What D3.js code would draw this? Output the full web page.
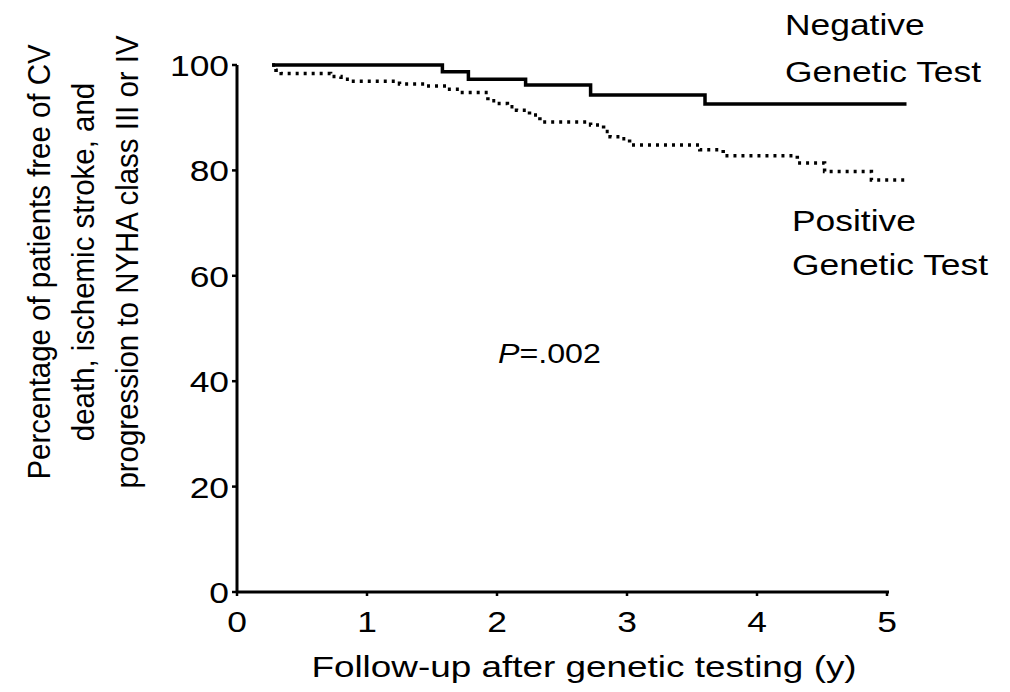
<!DOCTYPE html>
<meta charset="utf-8">
<script src="https://d3js.org/d3.v7.min.js"></script>
<style>
  body { margin: 0; background: #fff; }
  text { font-family: "Liberation Sans", Arial, sans-serif; fill: #000; }
</style>
<div id="chart"></div>
<script>

// follow-up years and % free of events (step points)
var negTime  = [0.27, 1.58, 1.78, 2.22, 2.72, 3.60, 5.15];
var negValue = [100, 98.7, 97.3, 96.2, 94.3, 92.6, 92.6];

var posTime  = [0.27, 0.30, 0.34, 0.72, 0.80, 0.87, 1.25, 1.45, 1.62, 1.72, 1.93, 2.00, 2.08, 2.15,
                2.25, 2.33, 2.72, 2.82, 2.87, 2.95, 3.02, 3.56, 3.74, 4.31, 4.52, 4.88, 5.15];
var posValue = [100, 99, 98.4, 97.8, 97.3, 96.9, 96.4, 96.0, 95.4, 94.8, 93.2, 92.7, 92.1, 91.4,
                90.5, 89.2, 88.6, 87.4, 86.4, 86.0, 84.8, 83.9, 82.8, 81.4, 79.8, 78.2, 78.2];

var xTicks = [0, 1, 2, 3, 4, 5];
var yTicks = [0, 20, 40, 60, 80, 100];

var yLabelLines = ["Percentage of patients free of CV",
                   "death, ischemic stroke, and",
                   "progression to NYHA class III or IV"];

var W = 1010, H = 692;
var sx = 1.18; // horizontal stretch of the original lettering

var svg = d3.select("#chart").append("svg")
    .attr("width", W).attr("height", H);

var x = d3.scaleLinear().domain([0, 5]).range([237, 887]);
var y = d3.scaleLinear().domain([0, 100]).range([592, 65]);

// axes lines
svg.append("line")
  .attr("x1", x(0)).attr("x2", x(5) + 2)
  .attr("y1", y(0)).attr("y2", y(0))
  .attr("stroke", "#000").attr("stroke-width", 3);
svg.append("line")
  .attr("x1", x(0)).attr("x2", x(0))
  .attr("y1", y(0) + 1).attr("y2", y(100))
  .attr("stroke", "#000").attr("stroke-width", 3);

// y ticks + labels
yTicks.forEach(function(t) {
  svg.append("line")
    .attr("x1", x(0) - 5).attr("x2", x(0))
    .attr("y1", y(t)).attr("y2", y(t))
    .attr("stroke", "#000").attr("stroke-width", 2.5);
  svg.append("text")
    .attr("transform", "translate(" + (x(0) - 8) + "," + (y(t) + 11) + ") scale(" + sx + ",1)")
    .attr("text-anchor", "end")
    .style("font-size", "30px")
    .text(t);
});

// x ticks + labels
xTicks.forEach(function(t) {
  svg.append("line")
    .attr("x1", x(t)).attr("x2", x(t))
    .attr("y1", y(0)).attr("y2", y(0) + 4)
    .attr("stroke", "#000").attr("stroke-width", 2.5);
  svg.append("text")
    .attr("transform", "translate(" + x(t) + "," + 632 + ") scale(" + sx + ",1)")
    .attr("text-anchor", "middle")
    .style("font-size", "30px")
    .text(t);
});

// x axis title
svg.append("text")
  .attr("transform", "translate(" + 584 + "," + 677 + ") scale(1.23,1)")
  .attr("text-anchor", "middle")
  .style("font-size", "30px")
  .text("Follow-up after genetic testing (y)");

// y axis title, three rotated lines
yLabelLines.forEach(function(l, i) {
  svg.append("text")
    .attr("transform", "translate(" + (50 + i * 44) + "," + 262 + ") rotate(-90) scale(0.95,1)")
    .attr("text-anchor", "middle")
    .style("font-size", "31px")
    .text(l);
});

// curves
var line = d3.line()
  .x(function(d) { return x(d[0]); })
  .y(function(d) { return y(d[1]); })
  .curve(d3.curveStepAfter);

var neg = d3.zip(negTime, negValue);
var pos = d3.zip(posTime, posValue);

svg.append("path")
  .datum(pos)
  .attr("d", line)
  .attr("fill", "none")
  .attr("stroke", "#000")
  .attr("stroke-width", 3.5)
  .attr("stroke-dasharray", "3,5");

svg.append("path")
  .datum(neg)
  .attr("d", line)
  .attr("fill", "none")
  .attr("stroke", "#000")
  .attr("stroke-width", 3.5);

// curve labels
function label(txt, px, py) {
  svg.append("text")
    .attr("transform", "translate(" + px + "," + py + ") scale(" + sx + ",1)")
    .style("font-size", "30px")
    .text(txt);
}
label("Negative", 785, 35);
label("Genetic Test", 785, 82);
label("Positive", 792, 231);
label("Genetic Test", 792, 275);

// P value
var p = svg.append("text")
  .attr("transform", "translate(" + 498 + "," + 363 + ") scale(" + 1.15 + ",1)")
  .style("font-size", "28px");
p.append("tspan").style("font-style", "italic").text("P");
p.append("tspan").text("=.002");

</script>
